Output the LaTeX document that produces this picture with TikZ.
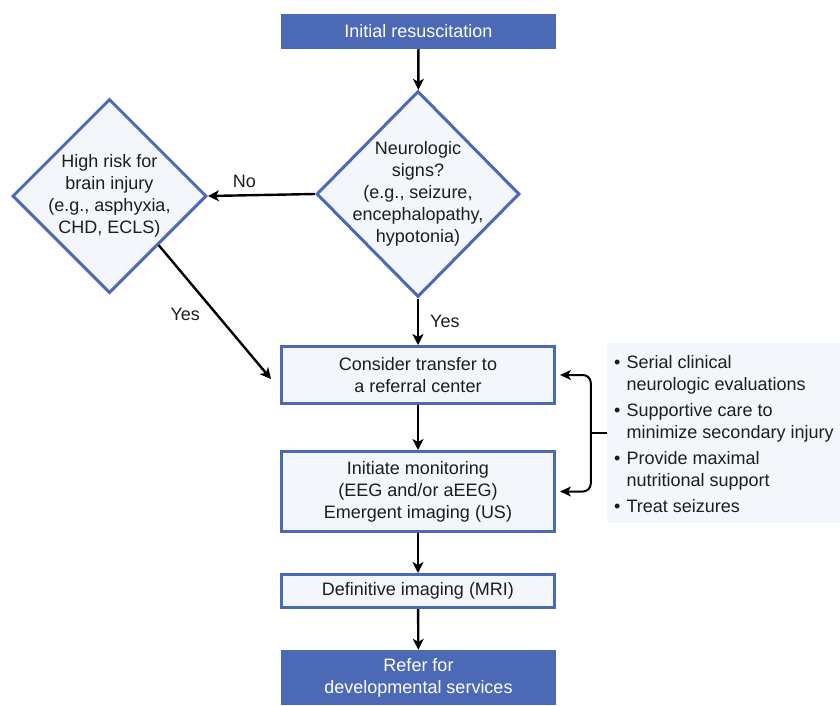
\documentclass[tikz,border=0pt]{standalone}
\usepackage{fontspec}
\setmainfont{Liberation Sans}
\usetikzlibrary{shapes.geometric,arrows.meta,calc}
\definecolor{mblue}{HTML}{4B69B4}
\definecolor{lfill}{HTML}{F3F7FC}
\definecolor{tx}{HTML}{1E1C1D}
\begin{document}
\begin{tikzpicture}[x=1pt,y=-1pt,
  font=\fontsize{18}{22}\selectfont, text=tx,
  bluebox/.style={rectangle, fill=mblue, text=white, inner sep=0pt, align=center, minimum width=275pt},
  lightbox/.style={rectangle, fill=lfill, draw=mblue, line width=3pt, inner sep=0pt, align=center, minimum width=273pt},
  dia/.style={diamond, fill=lfill, draw=mblue, line width=3pt, inner sep=0pt},
  arr/.style={draw=black, line width=2.4pt, -{Stealth[length=11pt,width=11pt,inset=3pt]}},
  barr/.style={draw=black, line width=2pt, -{Stealth[length=11pt,width=10pt,inset=3pt]}, rounded corners=8pt},
  lbl/.style={inner sep=0pt, text=tx}
]
\useasboundingbox (0,0) rectangle (840,705);

\node[bluebox, minimum height=35pt] (top) at (418.5,31.5) {Initial resuscitation};

\node[dia, minimum width=203pt, minimum height=206pt,
  label={[align=center, text=tx]center:Neurologic\\signs?\\(e.g., seizure,\\encephalopathy,\\hypotonia)}] (rd) at (418,194) {};

\node[dia, minimum width=194pt, minimum height=194pt,
  label={[align=center, text=tx]center:High risk for\\brain injury\\(e.g., asphyxia,\\CHD, ECLS)}] (ld) at (109.5,196) {};

\node[lightbox, minimum height=57pt] (b1) at (418,375) {Consider transfer to\\a referral center};
\node[lightbox, minimum height=80pt] (b2) at (418,491.5) {Initiate monitoring\\(EEG and/or aEEG)\\Emergent imaging (US)};
\node[lightbox, minimum height=33pt] (b3) at (418,591) {Definitive imaging (MRI)};
\node[bluebox, minimum height=55pt] (b4) at (418.5,677.5) {Refer for\\developmental services};

\node[rectangle, fill=lfill, minimum width=233pt, minimum height=180pt, inner sep=0pt] (panel) at (723.5,433) {};
\node[lbl, anchor=west] (plist) at (614,436) {%
\begin{tabular}{@{}l@{\hspace{6pt}}l@{}}
\textbullet & Serial clinical\\
 & neurologic evaluations\\[4pt]
\textbullet & Supportive care to\\
 & minimize secondary injury\\[4pt]
\textbullet & Provide maximal\\
 & nutritional support\\[4pt]
\textbullet & Treat seizures
\end{tabular}};

\draw[arr] (top) -- (rd);
\draw[arr] (rd.west) -- (ld.east) node[lbl, pos=0.66, above=6pt] {No};
\draw[arr] ($(ld.east)!0.5!(ld.south)$) -- ($(b1.west)+(-9,4)$) node[lbl, pos=0.52, left=16pt] {Yes};
\draw[arr] (rd.south) -- (b1.north) node[lbl, midway, right=11pt] {Yes};
\draw[arr] (b1) -- (b2);
\draw[arr] (b2) -- (b3);
\draw[arr] (b3) -- (b4);

\coordinate (br) at ($(panel.west)+(-16,0)$);
\draw[line width=2pt] (br) -- (panel.west);
\draw[barr, shorten >=4pt] (br) |- (b1.east);
\draw[barr, shorten >=4pt] (br) |- (b2.east);
\end{tikzpicture}
\end{document}
